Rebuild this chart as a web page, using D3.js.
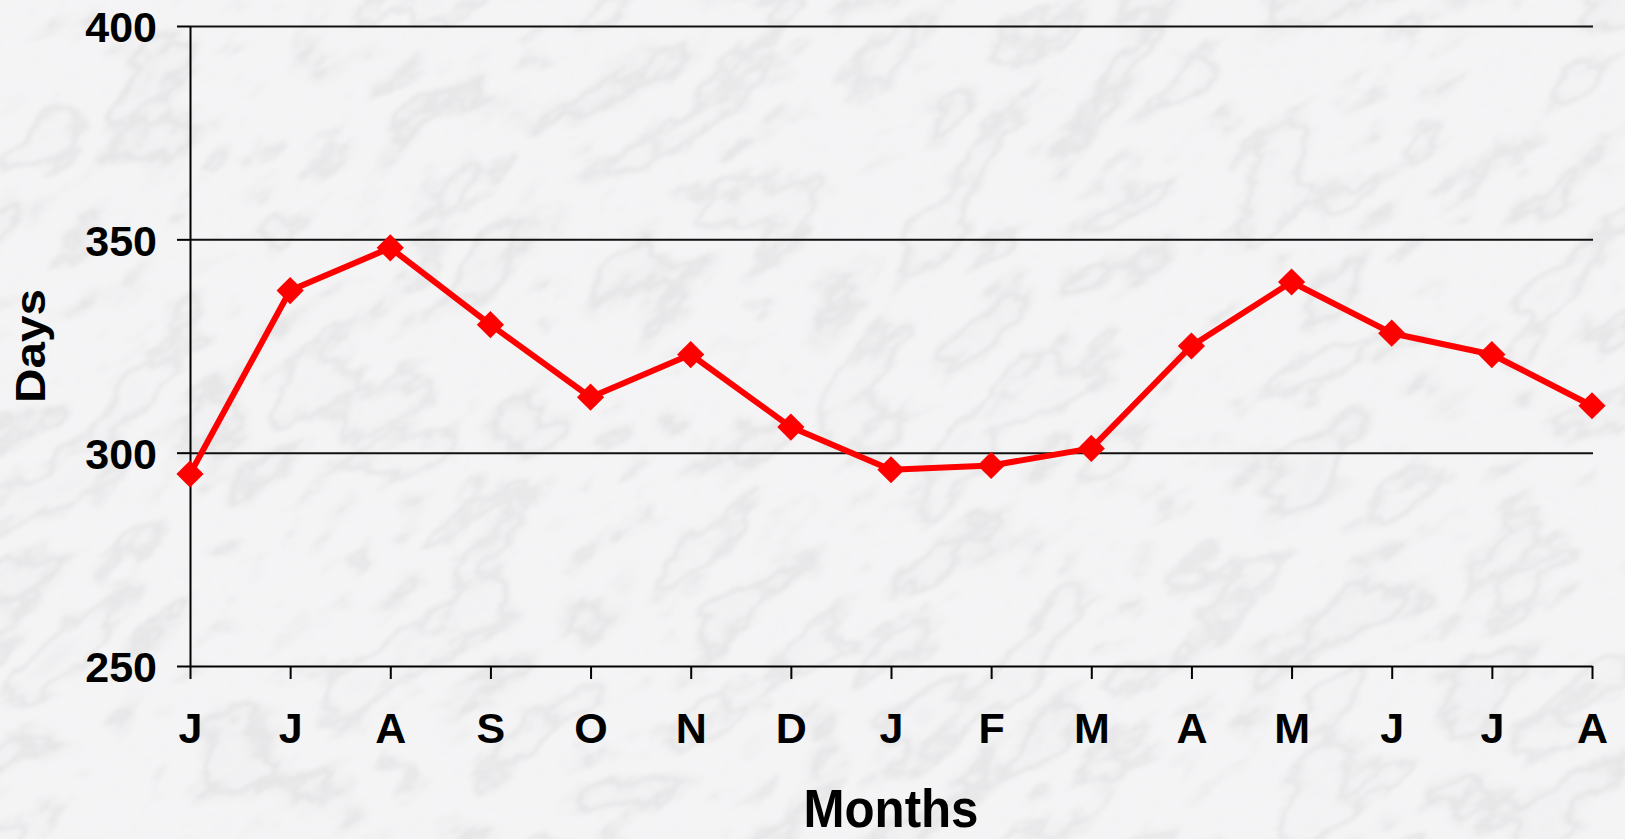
<!DOCTYPE html>
<html>
<head>
<meta charset="utf-8">
<script src="https://cdn.jsdelivr.net/npm/d3@7"></script>
<style>
  body { margin: 0; background: #e2e3e5; }
  text { font-family: "Liberation Sans", Arial, sans-serif; font-weight: bold; }
</style>
</head>
<body>
<div id="chart-area"></div>
<script>
// chart data
let months = ["J", "J", "A", "S", "O", "N", "D", "J", "F", "M", "A", "M", "J", "J", "A"]
let days = [295, 338, 348, 330, 313, 323, 306, 296, 297, 301, 325, 340, 328, 323, 311]
let yTicks = [250, 300, 350, 400]

let width = 1625
let height = 839
let margin = {top: 26, right: 33, bottom: 173, left: 190}

let plotWidth = width - margin.left - margin.right
let plotHeight = height - margin.top - margin.bottom

let svg = d3.select("#chart-area").append("svg")
  .attr("width", width)
  .attr("height", height)

// marble-ish background made from noise
let defs = svg.append("defs")
let filter = defs.append("filter")
  .attr("id", "marble")
  .attr("x", 0).attr("y", 0).attr("width", 1).attr("height", 1)
filter.append("feTurbulence")
  .attr("type", "fractalNoise")
  .attr("baseFrequency", "0.007 0.014")
  .attr("numOctaves", 5)
  .attr("seed", 11)
filter.append("feColorMatrix")
  .attr("type", "matrix")
  .attr("values", "1 0 0 0 0  1 0 0 0 0  1 0 0 0 0  0 0 0 0 1")
let transfer = filter.append("feComponentTransfer")
let veins = "0.85 0.86 0.87 0.88 0.89 0.87 0.79 0.87 0.90 0.91 0.90 0.91 0.88 0.80 0.88 0.90 0.89 0.88 0.87 0.86 0.85"
transfer.append("feFuncR").attr("type", "table").attr("tableValues", veins)
transfer.append("feFuncG").attr("type", "table").attr("tableValues", veins)
transfer.append("feFuncB").attr("type", "table").attr("tableValues", veins.split(" ").map(v => Math.min(1, +v + 0.012)).join(" "))
filter.append("feGaussianBlur").attr("stdDeviation", 1.6)

svg.append("g")
  .attr("transform", "translate(" + width / 2 + "," + height / 2 + ") rotate(-35)")
  .append("rect")
    .attr("x", -1100).attr("y", -1100)
    .attr("width", 2200).attr("height", 2200)
    .attr("filter", "url(#marble)")

let group = svg.append("g")
  .attr("transform", "translate(" + margin.left + ", " + margin.top + ")")

let x = d3.scalePoint()
  .domain(d3.range(months.length))
  .range([0, plotWidth])

let y = d3.scaleLinear()
  .domain([250, 400])
  .range([plotHeight, 0])

// gridlines
group.append("g")
  .attr("class", "grid")
  .call(d3.axisLeft(y).tickValues(yTicks.slice(1)).tickSize(-(plotWidth + 1)).tickFormat(""))
  .call(g => g.select(".domain").remove())
  .selectAll("line")
    .attr("stroke", "#111")
    .attr("stroke-width", 2)

// Y axis
let yAxisCall = d3.axisLeft(y)
  .tickValues(yTicks)
  .tickSizeInner(13)
  .tickSizeOuter(0)
  .tickPadding(20)
group.append("g")
  .attr("class", "y-axis")
  .call(yAxisCall)
  .call(g => g.selectAll("line, path").attr("stroke", "#000").attr("stroke-width", 2))
  .selectAll("text")
    .attr("font-size", "43px")
    .attr("font-family", null)
    .attr("fill", "#000")
    .attr("dy", "0.37em")

// X axis
let xAxisCall = d3.axisBottom(x)
  .tickSizeInner(13)
  .tickSizeOuter(0)
  .tickPadding(33)
  .tickFormat(i => months[i])
group.append("g")
  .attr("class", "x-axis")
  .attr("transform", "translate(0, " + plotHeight + ")")
  .call(xAxisCall)
  .call(g => g.selectAll("line, path").attr("stroke", "#000").attr("stroke-width", 2))
  .selectAll("text")
    .attr("font-size", "43px")
    .attr("font-family", null)
    .attr("fill", "#000")

// the series line
let line = d3.line()
  .x((d, i) => x(i))
  .y(d => y(d))

group.append("path")
  .datum(days)
  .attr("fill", "none")
  .attr("stroke", "#ff0000")
  .attr("stroke-width", 6)
  .attr("stroke-linejoin", "round")
  .attr("d", line)

// diamond markers (rotated squares)
let marker = d3.symbol().type(d3.symbolSquare).size(370)
group.selectAll(".marker")
  .data(days)
  .enter()
  .append("path")
    .attr("class", "marker")
    .attr("d", marker)
    .attr("fill", "#ff0000")
    .attr("transform", (d, i) => "translate(" + x(i) + "," + y(d) + ") rotate(45)")

// X label
svg.append("text")
  .attr("x", margin.left + plotWidth / 2)
  .attr("y", 827)
  .attr("font-size", "54px")
  .attr("text-anchor", "middle")
  .attr("textLength", 175)
  .attr("lengthAdjust", "spacingAndGlyphs")
  .text("Months")

// Y label
svg.append("text")
  .attr("x", -(margin.top + plotHeight / 2))
  .attr("y", 45)
  .attr("font-size", "42px")
  .attr("text-anchor", "middle")
  .attr("transform", "rotate(-90)")
  .attr("textLength", 114)
  .attr("lengthAdjust", "spacingAndGlyphs")
  .text("Days")
</script>
</body>
</html>
